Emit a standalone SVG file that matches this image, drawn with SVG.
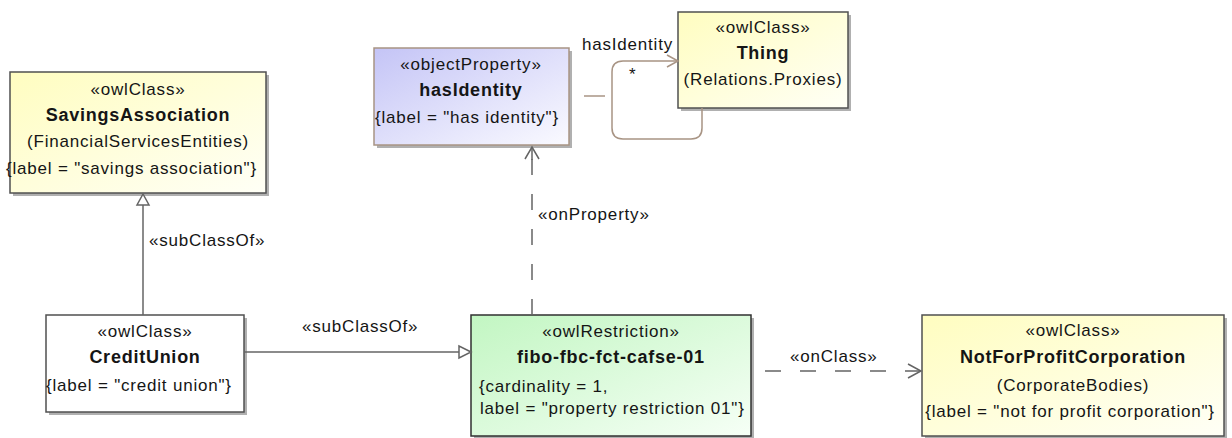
<svg xmlns="http://www.w3.org/2000/svg" width="1232" height="438" viewBox="0 0 1232 438">
<defs>
<linearGradient id="gY" x1="0" y1="0" x2="1" y2="1"><stop offset="0" stop-color="#fffdc0"/><stop offset="1" stop-color="#fffff6"/></linearGradient>
<linearGradient id="gB" x1="0" y1="0" x2="1" y2="1"><stop offset="0" stop-color="#c4c4f6"/><stop offset="1" stop-color="#fafaff"/></linearGradient>
<linearGradient id="gG" x1="0" y1="0" x2="1" y2="1"><stop offset="0" stop-color="#c2f6c2"/><stop offset="1" stop-color="#f6fff6"/></linearGradient>
</defs>
<style>
text { font-family: "Liberation Sans", Arial, sans-serif; font-size: 17px; fill: #151515; letter-spacing: 0.8px; }
.b { font-weight: bold; font-size: 18px; letter-spacing: 0.75px; }
.m { text-anchor: middle; }
.sh { fill: #b0b0b0; }
.cls { stroke: #505050; stroke-width: 1.5; }
.prop { stroke: #a89484; stroke-width: 1.5; }
.ln { stroke: #646464; stroke-width: 1.5; fill: none; }
.dash { stroke-dasharray: 16 19; }
.br { stroke: #a89484; stroke-width: 1.5; fill: none; }
.tri { fill: #fff; stroke: #646464; stroke-width: 1.5; }
</style>

<g id="SavingsAssociation">
<rect class="sh" x="13" y="75" width="256" height="121"/>
<rect class="cls" x="10" y="72" width="256" height="121" fill="url(#gY)"/>
<text class="m" x="138" y="95">«owlClass»</text>
<text class="m b" x="138" y="121">SavingsAssociation</text>
<text class="m" x="138" y="147">(FinancialServicesEntities)</text>
<text x="6" y="174">{label = "savings association"}</text>
</g>

<g id="hasIdentity">
<rect class="sh" x="377" y="51" width="195" height="97"/>
<rect class="prop" x="374" y="48" width="195" height="97" fill="url(#gB)"/>
<text class="m" x="471" y="70">«objectProperty»</text>
<text class="m b" x="471" y="96">hasIdentity</text>
<text x="375" y="123">{label = "has identity"}</text>
</g>

<g id="Thing">
<rect class="sh" x="681" y="15" width="170" height="96"/>
<rect class="cls" x="678" y="12" width="170" height="96" fill="url(#gY)"/>
<text class="m" x="763" y="33">«owlClass»</text>
<text class="m b" x="763" y="59">Thing</text>
<text class="m" x="763" y="85">(Relations.Proxies)</text>
</g>

<g id="CreditUnion">
<rect class="sh" x="49" y="318" width="198" height="97"/>
<rect class="cls" x="46" y="315" width="198" height="97" fill="#ffffff"/>
<text class="m" x="145" y="337">«owlClass»</text>
<text class="m b" x="145" y="363">CreditUnion</text>
<text x="46" y="391">{label = "credit union"}</text>
</g>

<g id="fibo-fbc-fct-cafse-01">
<rect class="sh" x="474" y="318" width="280" height="121"/>
<rect x="471" y="315" width="280" height="121" fill="url(#gG)" stroke="#303030" stroke-width="1.5"/>
<text class="m" x="611" y="337">«owlRestriction»</text>
<text class="m b" x="611" y="363">fibo-fbc-fct-cafse-01</text>
<text x="479" y="392">{cardinality = 1,</text>
<text x="480" y="414">label = "property restriction 01"}</text>
</g>

<g id="NotForProfitCorporation">
<rect class="sh" x="925" y="318" width="302" height="121"/>
<rect class="cls" x="922" y="315" width="302" height="121" fill="url(#gY)"/>
<text class="m" x="1073" y="336">«owlClass»</text>
<text class="m b" x="1073" y="363">NotForProfitCorporation</text>
<text class="m" x="1073" y="391">(CorporateBodies)</text>
<text class="m" x="1070" y="417">{label = "not for profit corporation"}</text>
</g>

<g id="connectors">
<line class="ln" x1="143" y1="315" x2="143" y2="205"/>
<polygon class="tri" points="143,194 137,205 149,205"/>
<text x="149" y="246">«subClassOf»</text>

<line class="ln" x1="244" y1="352" x2="459" y2="352"/>
<polygon class="tri" points="471,352 459,346 459,358"/>
<text x="302" y="332">«subClassOf»</text>

<line class="ln dash" x1="532" y1="315" x2="532" y2="148"/>
<polyline class="ln" points="525,159 532,147 539,159"/>
<line class="ln" x1="532" y1="147" x2="532" y2="160"/>
<text x="538" y="220">«onProperty»</text>

<line class="ln dash" x1="765" y1="371" x2="921" y2="371"/>
<polyline class="ln" points="908,364 921,371 908,378"/>
<text x="790" y="362">«onClass»</text>

<line class="br" x1="584" y1="96" x2="605" y2="96"/>
<path class="br" d="M 678 61 L 623 61 Q 612 61 612 72 L 612 128 Q 612 139 623 139 L 691 139 Q 702 139 702 128 L 702 108"/>
<polyline class="br" points="667,55 678,61 667,67"/>
<text x="582" y="50">hasIdentity</text>
<text x="629" y="80">*</text>
</g>
</svg>
